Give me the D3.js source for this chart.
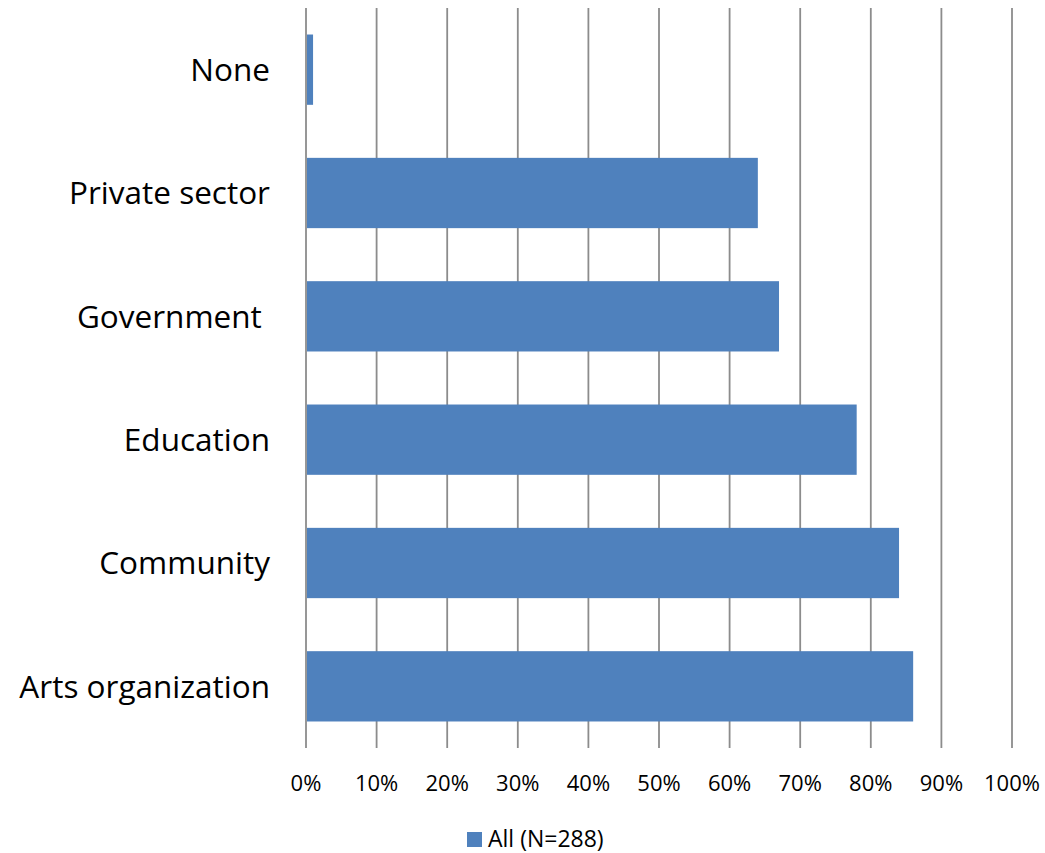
<!DOCTYPE html>
<html>
<head>
<meta charset="utf-8">
<script src="https://cdn.jsdelivr.net/npm/d3@7"></script>
<style>
  html, body { margin: 0; padding: 0; background: #fff; }
  svg { display: block; }
  text { font-family: "Open Sans", "Noto Sans", sans-serif; fill: #000; white-space: pre; }
</style>
</head>
<body>
<svg id="chart" width="1045" height="853"></svg>
<script>
// Share of respondents by partner type
const categories = ["None", "Private sector", "Government ", "Education", "Community", "Arts organization"];
const values = [0.01, 0.64, 0.67, 0.78, 0.84, 0.86];
const tickValues = [0, 0.1, 0.2, 0.3, 0.4, 0.5, 0.6, 0.7, 0.8, 0.9, 1.0];
const seriesName = "All (N=288)";

const svg = d3.select("#chart");
const plot = { left: 306, right: 1012, top: 8, bottom: 748 };

const x = d3.scaleLinear().domain([0, 1]).range([plot.left, plot.right]);
const y = d3.scaleBand().domain(categories).range([plot.top, plot.bottom]).paddingInner(0.43).paddingOuter(0.215);

// vertical gridlines
svg.append("g").selectAll("line").data(tickValues).join("line")
  .attr("x1", d => x(d)).attr("x2", d => x(d))
  .attr("y1", plot.top).attr("y2", plot.bottom)
  .attr("stroke", "#8c8c8c").attr("stroke-width", 1.8);

// bars
svg.append("g").selectAll("rect").data(categories).join("rect")
  .attr("x", x(0) + 1)
  .attr("y", d => y(d))
  .attr("width", (d, i) => x(values[i]) - x(0) - 1)
  .attr("height", y.bandwidth())
  .attr("fill", "#4F81BD");

// category labels
svg.append("g").selectAll("text").data(categories).join("text")
  .attr("x", 270)
  .attr("y", d => y(d) + y.bandwidth() / 2)
  .attr("dy", "0.36em")
  .attr("text-anchor", "end")
  .attr("font-size", 31.5)
  .text(d => d);

// x tick labels
const fmt = d3.format(".0%");
svg.append("g").selectAll("text").data(tickValues).join("text")
  .attr("x", d => x(d))
  .attr("y", 791)
  .attr("text-anchor", "middle")
  .attr("font-size", 22)
  .text(d => fmt(d));

// legend
const lg = svg.append("g");
lg.append("rect").attr("x", 467).attr("y", 832).attr("width", 15).attr("height", 15).attr("fill", "#4F81BD");
lg.append("text").attr("x", 488).attr("y", 847).attr("font-size", 23).text(seriesName);
</script>
</body>
</html>
